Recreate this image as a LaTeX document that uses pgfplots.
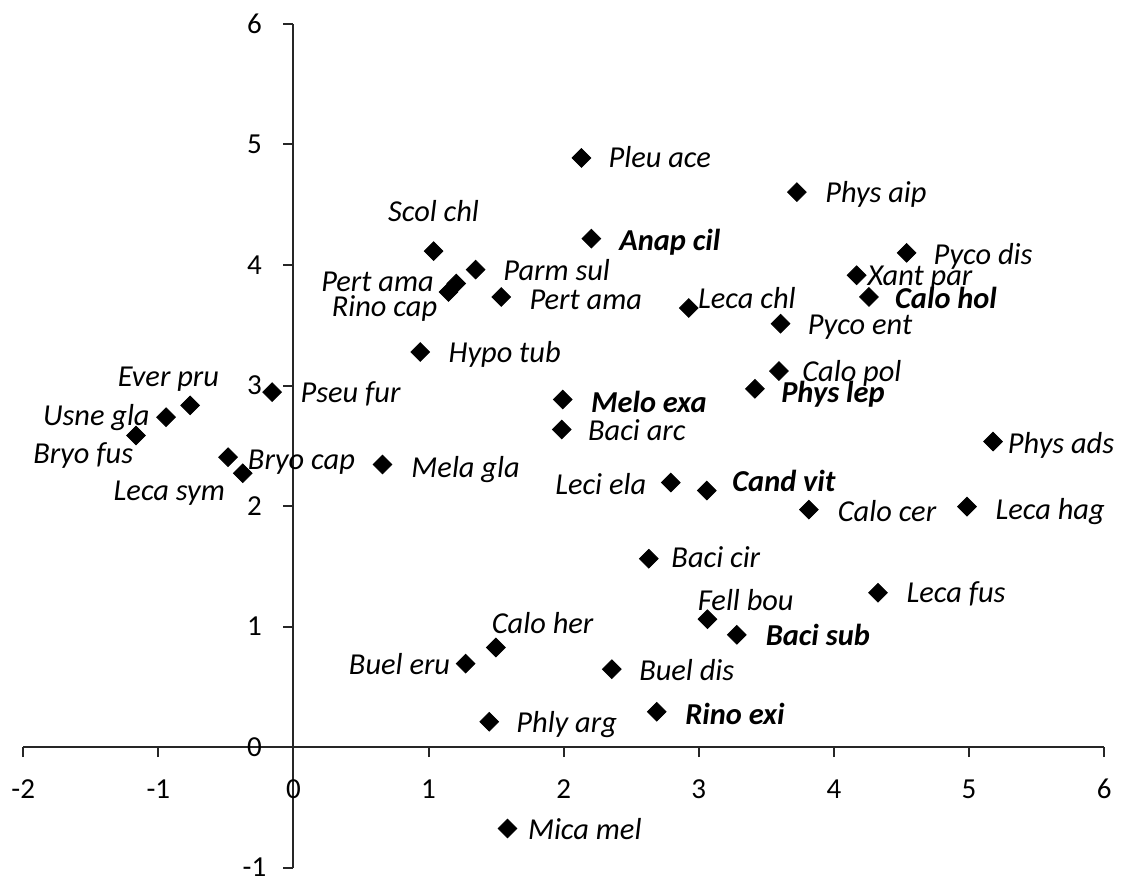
\documentclass[border=0pt]{standalone}
\usepackage{fontspec}
\setmainfont{Carlito}
\usepackage{pgfplots}
\pgfplotsset{compat=1.18}
\tikzset{lab/.style={font=\fontsize{15.2}{18}\selectfont\itshape, inner sep=0pt, text height=0.6em, text depth=0pt, anchor=center, yshift=-2pt}}
\newcommand{\lab}[3]{\node[lab] at (axis cs:#1,#2) {#3};}
\pgfplotstableread{
x y
2.131 4.888
3.726 4.605
1.037 4.115
2.205 4.219
4.538 4.101
1.348 3.962
4.168 3.915
1.205 3.846
1.538 3.735
4.259 3.735
2.926 3.643
1.148 3.776
3.605 3.513
0.938 3.278
3.593 3.120
-0.765 2.835
-0.158 2.945
3.415 2.973
1.993 2.884
-0.943 2.737
1.985 2.635
5.178 2.535
-1.165 2.585
-0.484 2.405
0.659 2.344
-0.375 2.272
2.793 2.195
3.059 2.128
3.815 1.970
4.985 1.995
2.630 1.563
4.326 1.280
3.064 1.061
1.498 0.826
3.281 0.931
1.274 0.692
2.356 0.646
2.689 0.293
1.449 0.210
1.584 -0.676
}\pts
\begin{document}
\begin{tikzpicture}
\begin{axis}[
 x=67.55pt, y=60.25pt,
 xmin=-2, xmax=6, ymin=-1, ymax=6,
 axis lines=middle,
 axis line style={black!85, line width=1pt, -},
 xtick={-2,...,6}, ytick={-1,...,6},
 tick align=outside,
 major tick length=5pt,
 tick style={black!85, line width=1pt},
 hide obscured x ticks=false, hide obscured y ticks=false,
 /pgf/number format/assume math mode=true,
 ticklabel style={font=\fontsize{14.5}{16}\selectfont, inner sep=0pt},
 xticklabel style={anchor=center, yshift=-16pt},
 yticklabel style={anchor=center, xshift=-14.5pt},
 clip=false,
]
\addplot[only marks, mark=square*, mark size=3.3pt, mark options={rotate=45, fill=black, draw=black}] table[x=x,y=y]{\pts};
\lab{2.711}{4.888}{Pleu ace}
\lab{4.311}{4.605}{Phys aip}
\lab{1.037}{4.447}{Scol chl}
\lab{2.785}{4.206}{\bfseries Anap cil}
\lab{5.104}{4.090}{Pyco dis}
\lab{1.948}{3.957}{Parm sul}
\lab{4.637}{3.915}{Xant par}
\lab{0.622}{3.865}{Pert ama}
\lab{2.163}{3.716}{Pert ama}
\lab{4.830}{3.724}{\bfseries Calo hol}
\lab{3.356}{3.724}{Leca chl}
\lab{0.674}{3.658}{Rino cap}
\lab{4.193}{3.508}{Pyco ent}
\lab{1.563}{3.275}{Hypo tub}
\lab{4.133}{3.117}{Calo pol}
\lab{-0.926}{3.076}{Ever pru}
\lab{0.422}{2.943}{Pseu fur}
\lab{3.993}{2.943}{\bfseries Phys lep}
\lab{2.630}{2.860}{\bfseries Melo exa}
\lab{-1.459}{2.751}{Usne gla}
\lab{2.541}{2.627}{Baci arc}
\lab{5.681}{2.519}{Phys ads}
\lab{-1.556}{2.436}{Bryo fus}
\lab{0.059}{2.386}{Bryo cap}
\lab{1.274}{2.319}{Mela gla}
\lab{-0.919}{2.128}{Leca sym}
\lab{2.274}{2.178}{Leci ela}
\lab{3.630}{2.203}{\bfseries Cand vit}
\lab{4.393}{1.953}{Calo cer}
\lab{5.600}{1.970}{Leca hag}
\lab{3.126}{1.571}{Baci cir}
\lab{4.904}{1.280}{Leca fus}
\lab{3.348}{1.214}{Fell bou}
\lab{1.844}{1.022}{Calo her}
\lab{3.881}{0.923}{\bfseries Baci sub}
\lab{0.785}{0.682}{Buel eru}
\lab{2.911}{0.632}{Buel dis}
\lab{3.267}{0.274}{\bfseries Rino exi}
\lab{2.022}{0.200}{Phly arg}
\lab{2.156}{-0.682}{Mica mel}
\coordinate (bbl) at (axis cs:-2.172,-1.088);
\coordinate (btr) at (axis cs:6.221,6.199);
\end{axis}
\pgfresetboundingbox
\useasboundingbox (bbl) rectangle (btr);
\end{tikzpicture}
\end{document}
